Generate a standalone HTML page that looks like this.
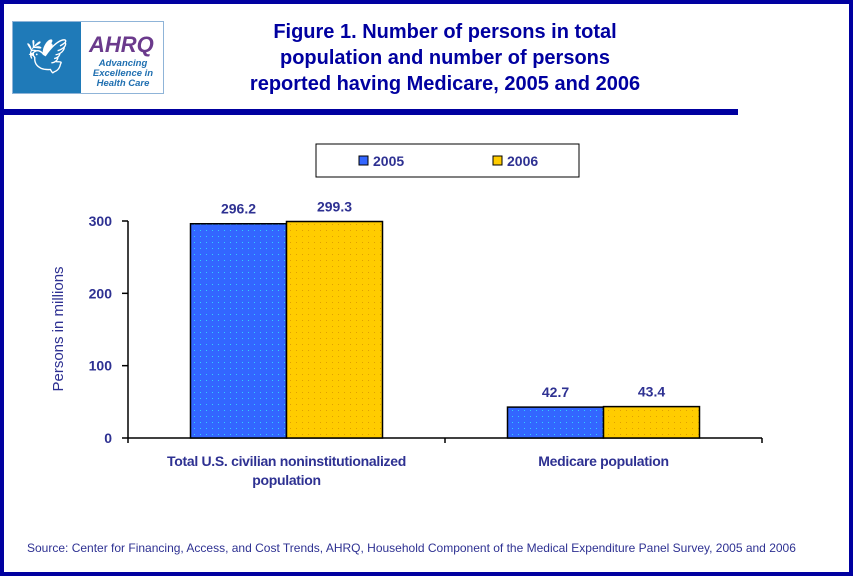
<!DOCTYPE html>
<html><head><meta charset="utf-8"><style>
body{margin:0;width:853px;height:576px;overflow:hidden;background:#fff;font-family:"Liberation Sans",Arial,sans-serif}
#frame{position:absolute;left:0;top:0;width:845px;height:568px;border:4px solid #0000a0;background:#fff}
</style></head><body>
<div id="frame"></div>
<div style="position:absolute;left:0;top:109px;width:738px;height:6px;background:#0000a0"></div>
<div style="position:absolute;left:12px;top:21px;width:150px;height:71px;border:1px solid #8fb4d8;background:#fff">
 <div style="position:absolute;left:0;top:0;width:68px;height:71px;background:#1f7ab8;color:#fff;font-size:34px;text-align:center;line-height:71px">🕊</div>
 <div style="position:absolute;left:76px;top:10px;font:italic bold 22px 'Liberation Sans',sans-serif;color:#6b3a8c">AHRQ</div>
 <div style="position:absolute;left:70px;top:37px;width:80px;text-align:center;font:italic bold 9.5px/10px 'Liberation Sans',sans-serif;color:#1f6fb0">Advancing<br>Excellence in<br>Health Care</div>
</div>
<div style="position:absolute;left:180px;top:19px;width:530px;text-align:center;font-weight:bold;font-size:20px;line-height:26px;color:#0000a0">Figure 1. Number of persons in total<br>population and number of persons<br>reported having Medicare, 2005 and 2006</div>
<svg width="853" height="576" style="position:absolute;left:0;top:0" id="chart"></svg>
<div style="position:absolute;left:27px;top:541px;font-size:12px;color:#2e3192">Source: Center for Financing, Access, and Cost Trends, AHRQ, Household Component of the Medical Expenditure Panel Survey, 2005 and 2006</div>
<script>
const categories=["Total U.S. civilian noninstitutionalized population","Medicare population"];
const series2005=[296.2,42.7];
const series2006=[299.3,43.4];
const yTicks=[0,100,200,300];
const NS="http://www.w3.org/2000/svg";
const svg=document.getElementById('chart');
const x0=128,x1=762,yb=438,yt=221,ymax=300;
const y=v=>yb-(v/ymax)*(yb-yt);
const C="#2e3192";
function el(t,a,p){const e=document.createElementNS(NS,t);for(const k in a)e.setAttribute(k,a[k]);(p||svg).appendChild(e);return e;}
const defs=el('defs',{});
const p1=el('pattern',{id:'pb',width:6,height:6,patternUnits:'userSpaceOnUse'},defs);
el('rect',{width:6,height:6,fill:'#3366ff'},p1);el('rect',{x:2,y:2,width:1,height:1,fill:'#33ccff'},p1);
const p2=el('pattern',{id:'py',width:6,height:6,patternUnits:'userSpaceOnUse'},defs);
el('rect',{width:6,height:6,fill:'#ffcc00'},p2);el('rect',{x:2,y:2,width:1,height:1,fill:'#e0a000'},p2);
let a=el('line',{x1:x0,y1:yt,x2:x0,y2:yb,stroke:'#000','stroke-width':1.5});

a=el('line',{x1:x0,y1:yb,x2:x1,y2:yb,stroke:'#000','stroke-width':1.5});

yTicks.forEach(v=>{
 const t=el('line',{x1:x0-6,y1:y(v),x2:x0,y2:y(v),stroke:'#000','stroke-width':1.5});
 
 const l=el('text',{x:x0-16,y:y(v)+5,'text-anchor':'end','font-size':14,'font-weight':'bold',fill:C});
 l.textContent=v;
 
});
const gw=(x1-x0)/categories.length;
for(let i=0;i<=categories.length;i++){
 const t=el('line',{x1:x0+gw*i,y1:yb,x2:x0+gw*i,y2:yb+5,stroke:'#000','stroke-width':1.5});
 
}
const bw=96;
categories.forEach((c,i)=>{
 const cx=x0+gw*(i+0.5);
 [[series2005,'url(#pb)',cx-bw,'2005'],[series2006,'url(#py)',cx,'2006']].forEach(([s,f,bx,yr])=>{
  const r=el('rect',{x:bx,y:y(s[i]),width:bw,height:yb-y(s[i]),fill:f,stroke:'#000','stroke-width':1.5});
  
  const t=el('text',{x:bx+bw/2,y:y(s[i])-10,'text-anchor':'middle','font-size':14,'font-weight':'bold',fill:C});
  t.textContent=s[i].toFixed(1);
  
 });
 const words=c.split(' ');const lines=i==0?[words.slice(0,4).join(' '),words.slice(4).join(' ')]:[c];
 lines.forEach((ln,j)=>{
  const t=el('text',{x:cx,y:466+j*19,'text-anchor':'middle','font-size':14,'font-weight':'bold',fill:C,'letter-spacing':'-0.3'});
  t.textContent=ln;
  
 });
});
const yt2=el('text',{x:0,y:0,transform:'translate(63,329) rotate(-90)','text-anchor':'middle','font-size':15,fill:C});
yt2.textContent='Persons in millions';

const lg=el('rect',{x:316,y:144,width:263,height:33,fill:'#fff',stroke:'#000','stroke-width':1});

[['#3366ff','2005',359],['#ffcc00','2006',493]].forEach(([col,lab,lx])=>{
 const s=el('rect',{x:lx,y:156,width:9,height:9,fill:col,stroke:'#000','stroke-width':1});
 
 const t=el('text',{x:lx+14,y:166,'font-size':14,'font-weight':'bold',fill:C});
 t.textContent=lab;
 
});
</script>
</body></html>
